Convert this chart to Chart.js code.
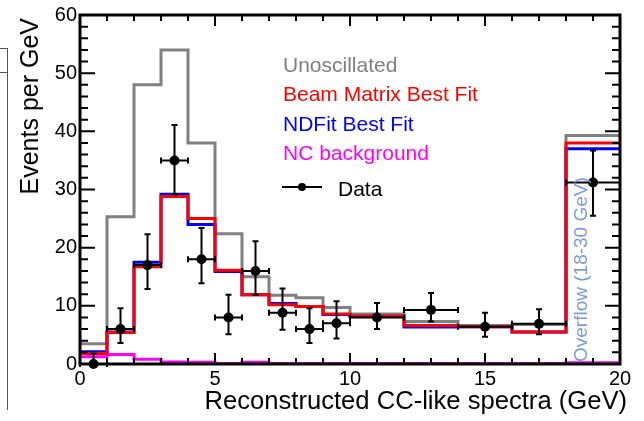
<!DOCTYPE html>
<html>
<head>
<meta charset="utf-8">
<script src="https://cdn.jsdelivr.net/npm/chart.js@4.4.1/dist/chart.umd.min.js"></script>
<style>
  html, body { margin: 0; padding: 0; background: #fff; }
</style>
</head>
<body>
<canvas id="spectra" width="644" height="421"></canvas>
<script>
    // bin edges in GeV, last bin is the 18-30 GeV overflow shown in 18-20
    const binEdges = [0, 1, 2, 3, 4, 5, 6, 7, 8, 9, 10, 12, 14, 16, 18, 20];
    const unoscillated = [3.5, 25.3, 48, 54, 38, 22.4, 15, 11.8, 11.4, 9.7, 8.6, 7.3, 6.6, 6.8, 39.3];
    const beamMatrix = [1.8, 5.4, 16.7, 28.8, 25, 16.1, 11.9, 10.2, 9.9, 8.6, 8.2, 6.6, 6.4, 5.5, 38];
    const ndFit = [2.1, 5.5, 17.5, 29.2, 24, 15.9, 11.9, 10.4, 9.9, 8.5, 8.2, 6.35, 6.4, 5.5, 37];
    const ncBackground = [1.25, 1.65, 0.8, 0.35, 0.3, 0.1, 0.3, 0.1, 0.1, 0.1, 0.1, 0.1, 0.1, 0.1, 0.2];

    // data points with asymmetric errors
    const dataX = [0.5, 1.5, 2.5, 3.5, 4.5, 5.5, 6.5, 7.5, 8.5, 9.5, 11, 13, 15, 17, 19];
    const dataXErr = [0.5, 0.5, 0.5, 0.5, 0.5, 0.5, 0.5, 0.5, 0.5, 0.5, 1, 1, 1, 1, 1];
    const dataY = [0, 6, 17, 35, 18, 8, 16, 8.8, 6, 7, 8, 9.3, 6.4, 6.9, 31.2];
    const dataErrUp = [1.8, 3.6, 5.3, 6.1, 5.4, 3.9, 5.1, 4.2, 3.6, 3.8, 2.5, 2.9, 2.4, 2.5, 5.5];
    const dataErrDown = [0, 2.4, 4.1, 5.8, 4.1, 2.9, 4.1, 2.9, 2.4, 2.6, 2.0, 2.0, 1.7, 1.8, 5.7];

    const xTicks = [0, 5, 10, 15, 20];
    const yTicks = [0, 10, 20, 30, 40, 50, 60];

    const FONT = '"Liberation Sans", Arial, Helvetica, sans-serif';

    // turn bin contents into step points
    function stepPoints(vals) {
        const pts = [{ x: binEdges[0], y: vals[0] }];
        vals.forEach((v, i) => pts.push({ x: binEdges[i + 1], y: v }));
        return pts;
    }

    function histo(label, vals, color, order) {
        return {
            type: 'line',
            label: label,
            data: stepPoints(vals),
            stepped: 'after',
            borderColor: color,
            borderWidth: 3,
            pointRadius: 0,
            fill: false,
            order: order
        };
    }

    // frame, inward ticks, error bars, legend texts
    const decorPlugin = {
        id: 'decor',
        afterDatasetsDraw(chart) {
            const ctx = chart.ctx;
            const xs = chart.scales.x, ys = chart.scales.y;
            const a = chart.chartArea;

            // error bars
            ctx.save();
            ctx.strokeStyle = '#000';
            ctx.lineWidth = 2;
            for (let i = 0; i < dataX.length; i++) {
                const px = xs.getPixelForValue(dataX[i]);
                const py = ys.getPixelForValue(dataY[i]);
                const x1 = xs.getPixelForValue(dataX[i] - dataXErr[i]);
                const x2 = xs.getPixelForValue(dataX[i] + dataXErr[i]);
                const y1 = ys.getPixelForValue(dataY[i] + dataErrUp[i]);
                const y2 = ys.getPixelForValue(dataY[i] - dataErrDown[i]);
                ctx.beginPath();
                ctx.moveTo(x1, py); ctx.lineTo(x2, py);
                ctx.moveTo(x1, py - 3); ctx.lineTo(x1, py + 3);
                ctx.moveTo(x2, py - 3); ctx.lineTo(x2, py + 3);
                ctx.moveTo(px, y1); ctx.lineTo(px, y2);
                ctx.moveTo(px - 3, y1); ctx.lineTo(px + 3, y1);
                if (dataErrDown[i] > 0) { ctx.moveTo(px - 3, y2); ctx.lineTo(px + 3, y2); }
                ctx.stroke();
            }
            ctx.restore();

            // frame
            ctx.save();
            ctx.strokeStyle = '#000';
            ctx.lineWidth = 3;
            ctx.strokeRect(a.left, a.top, a.right - a.left, a.bottom - a.top);

            // ticks pointing inward
            ctx.lineWidth = 2;
            ctx.beginPath();
            for (let v = 0; v <= 20; v++) {
                const p = xs.getPixelForValue(v);
                const len = v % 5 === 0 ? 11 : 6;
                ctx.moveTo(p, a.bottom); ctx.lineTo(p, a.bottom - len);
                ctx.moveTo(p, a.top); ctx.lineTo(p, a.top + len);
            }
            for (let v = 0; v <= 60; v += 2) {
                const p = ys.getPixelForValue(v);
                const len = v % 10 === 0 ? 15 : 8;
                ctx.moveTo(a.left, p); ctx.lineTo(a.left + len, p);
                ctx.moveTo(a.right, p); ctx.lineTo(a.right - len, p);
            }
            ctx.stroke();
            ctx.restore();

            // legend
            ctx.save();
            ctx.font = '21px ' + FONT;
            ctx.textBaseline = 'alphabetic';
            ctx.textAlign = 'left';
            const legendX = 283;
            ctx.fillStyle = '#808080'; ctx.fillText('Unoscillated', legendX, 72);
            ctx.fillStyle = '#ff0000'; ctx.fillText('Beam Matrix Best Fit', legendX, 101);
            ctx.fillStyle = '#0000ff'; ctx.fillText('NDFit Best Fit', legendX, 131);
            ctx.fillStyle = '#ff00ff'; ctx.fillText('NC background', legendX, 160);
            ctx.fillStyle = '#000'; ctx.fillText('Data', 338, 196);
            ctx.strokeStyle = '#000';
            ctx.lineWidth = 2;
            ctx.beginPath(); ctx.moveTo(282, 187); ctx.lineTo(322, 187); ctx.stroke();
            ctx.beginPath(); ctx.arc(302, 187, 4, 0, Math.PI * 2); ctx.fill();

            // overflow label
            ctx.translate(587, 362);
            ctx.rotate(-Math.PI / 2);
            ctx.font = '19px ' + FONT;
            ctx.fillStyle = '#7b9ad8';
            ctx.fillText('Overflow (18-30 GeV)', 0, 0);
            ctx.restore();
        },
        afterDraw(chart) {
            const ctx = chart.ctx;
            ctx.save();
            // axis titles
            ctx.fillStyle = '#000';
            ctx.textAlign = 'right';
            ctx.textBaseline = 'alphabetic';
            ctx.font = '25.6px ' + FONT;
            ctx.fillText('Reconstructed CC-like spectra (GeV)', 627, 409);
            ctx.font = '25px ' + FONT;
            ctx.translate(38, 18);
            ctx.rotate(-Math.PI / 2);
            ctx.fillText('Events per GeV', 0, 0);
            ctx.restore();

            // edge of the neighbouring panel
            ctx.save();
            ctx.strokeStyle = '#555';
            ctx.lineWidth = 1;
            ctx.beginPath();
            ctx.moveTo(0, 48.5); ctx.lineTo(7.5, 48.5);
            ctx.moveTo(0, 72.5); ctx.lineTo(7.5, 72.5);
            ctx.moveTo(7.5, 48); ctx.lineTo(7.5, 410);
            ctx.stroke();
            ctx.restore();
        }
    };

    const canvas = document.getElementById('spectra');

    let spectraChart = new Chart(canvas, {
        data: {
            datasets: [
                {
                    type: 'scatter',
                    label: 'Data',
                    data: dataX.map((x, i) => ({ x: x, y: dataY[i] })),
                    pointRadius: 5,
                    pointBackgroundColor: '#000',
                    pointBorderColor: '#000',
                    pointBorderWidth: 0,
                    clip: false,
                    order: 0
                },
                histo('Beam Matrix Best Fit', beamMatrix, '#ff0000', 1),
                histo('NDFit Best Fit', ndFit, '#0000ff', 2),
                histo('Unoscillated', unoscillated, '#808080', 3),
                histo('NC background', ncBackground, '#ff00ff', 4)
            ]
        },
        options: {
            responsive: false,
            devicePixelRatio: 1,
            animation: false,
            layout: { padding: { top: 12, right: 24, left: 0, bottom: 0 } },
            plugins: {
                legend: { display: false },
                tooltip: { enabled: false }
            },
            scales: {
                x: {
                    type: 'linear',
                    min: 0,
                    max: 20,
                    grid: { display: false, drawTicks: false },
                    border: { display: false },
                    afterBuildTicks: (s) => { s.ticks = xTicks.map(v => ({ value: v })); },
                    afterFit: (s) => { s.height = 57; },
                    ticks: {
                        padding: 3,
                        color: '#000',
                        maxRotation: 0,
                        font: { size: 20, family: FONT }
                    }
                },
                y: {
                    type: 'linear',
                    min: 0,
                    max: 60,
                    grid: { display: false, drawTicks: false },
                    border: { display: false },
                    afterBuildTicks: (s) => { s.ticks = yTicks.map(v => ({ value: v })); },
                    afterFit: (s) => { s.width = 80; },
                    ticks: {
                        padding: 3,
                        color: '#000',
                        font: { size: 20, family: FONT }
                    }
                }
            }
        },
        plugins: [decorPlugin]
    });
</script>
</body>
</html>
